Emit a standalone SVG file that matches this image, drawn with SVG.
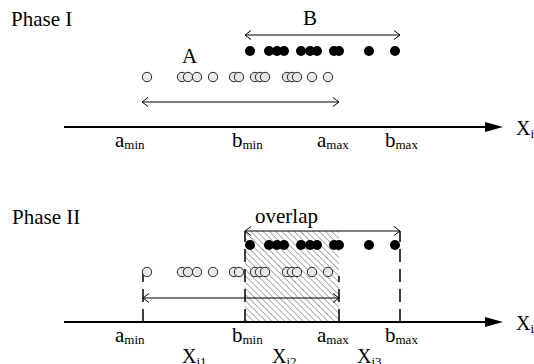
<svg xmlns="http://www.w3.org/2000/svg" width="534" height="364" viewBox="0 0 534 364">
<defs>
<style>
text { font-family: "Liberation Serif", "Times New Roman", serif; font-size: 21px; fill: #000; }
.sub { font-size: 13px; }
.xl { font-size: 20px; }
.axis { stroke: #000; stroke-width: 2; fill: none; }
.thin { stroke: #000; stroke-width: 1; fill: none; }
.dash { stroke: #000; stroke-width: 1.5; stroke-dasharray: 13 7; fill: none; }
.bd { fill: #000; }
.hd { fill: #e8e8e8; stroke: #222; stroke-width: 1; }
.head { fill: #000; }
</style>
<marker id="open" viewBox="-7 -6 8 12" refX="0" refY="0" markerWidth="8" markerHeight="12" markerUnits="userSpaceOnUse" orient="auto-start-reverse">
<path d="M-6,-4.5 L0,0 L-6,4.5" fill="none" stroke="#000" stroke-width="1"/>
</marker>
<pattern id="hatch" width="4.4" height="6" patternUnits="userSpaceOnUse" patternTransform="rotate(-45)">
<line x1="0" y1="0" x2="0" y2="6" stroke="#444" stroke-width="0.9"/>
</pattern>
</defs>

<g id="phase1">
<text x="11" y="26">Phase I</text>
<g id="axis1">
<line class="axis" x1="64" y1="127" x2="488" y2="127"/>
<polygon class="head" points="485,122 503,127 485,132"/>
<text class="xl" x="516" y="135">X<tspan class="sub" dy="3">i</tspan></text>
</g>
<g id="labels1">
<text x="115" y="147">a<tspan class="sub" dy="2">min</tspan></text>
<text x="232" y="147">b<tspan class="sub" dy="2">min</tspan></text>
<text x="317" y="147">a<tspan class="sub" dy="2">max</tspan></text>
<text x="385" y="147">b<tspan class="sub" dy="2">max</tspan></text>
</g>
<g id="setB1">
<text x="303" y="25">B</text>
<circle class="bd" cx="250" cy="51" r="5"/>
<circle class="bd" cx="269" cy="51" r="5"/>
<circle class="bd" cx="277" cy="51" r="5"/>
<circle class="bd" cx="284" cy="51" r="5"/>
<circle class="bd" cx="301" cy="51" r="5"/>
<circle class="bd" cx="310" cy="51" r="5"/>
<circle class="bd" cx="317" cy="51" r="5"/>
<circle class="bd" cx="334" cy="51" r="5"/>
<circle class="bd" cx="339" cy="51" r="5"/>
<circle class="bd" cx="369" cy="51" r="5"/>
<circle class="bd" cx="395" cy="51" r="5"/>
</g>
<g id="setA1">
<text x="182" y="63">A</text>
<circle class="hd" cx="147" cy="77" r="4.7"/>
<circle class="hd" cx="182" cy="77" r="4.7"/>
<circle class="hd" cx="188" cy="77" r="4.7"/>
<circle class="hd" cx="197" cy="77" r="4.7"/>
<circle class="hd" cx="213" cy="77" r="4.7"/>
<circle class="hd" cx="234" cy="77" r="4.7"/>
<circle class="hd" cx="239" cy="77" r="4.7"/>
<circle class="hd" cx="255" cy="77" r="4.7"/>
<circle class="hd" cx="260" cy="77" r="4.7"/>
<circle class="hd" cx="265" cy="77" r="4.7"/>
<circle class="hd" cx="287" cy="77" r="4.7"/>
<circle class="hd" cx="292" cy="77" r="4.7"/>
<circle class="hd" cx="297" cy="77" r="4.7"/>
<circle class="hd" cx="312" cy="77" r="4.7"/>
<circle class="hd" cx="328" cy="77" r="4.7"/>
</g>
</g>

<g id="phase2">
<text x="12" y="224">Phase II</text>
<g id="overlap">
<rect x="245" y="231" width="94" height="91" fill="url(#hatch)"/>
<text x="255" y="223">overlap</text>
</g>
<g id="axis2">
<line class="axis" x1="64" y1="322" x2="488" y2="322"/>
<polygon class="head" points="485,317 503,322 485,327"/>
<text class="xl" x="516" y="330">X<tspan class="sub" dy="3">i</tspan></text>
</g>
<g id="labels2">
<text x="115" y="342">a<tspan class="sub" dy="2">min</tspan></text>
<text x="232" y="342">b<tspan class="sub" dy="2">min</tspan></text>
<text x="317" y="342">a<tspan class="sub" dy="2">max</tspan></text>
<text x="385" y="342">b<tspan class="sub" dy="2">max</tspan></text>
<text class="xl" x="182" y="363">X<tspan class="sub" dy="3">i1</tspan></text>
<text class="xl" x="272" y="363">X<tspan class="sub" dy="3">i2</tspan></text>
<text class="xl" x="357" y="363">X<tspan class="sub" dy="3">i3</tspan></text>
</g>
<g id="bounds">
<line class="dash" x1="143" y1="322" x2="143" y2="272"/>
<line class="dash" x1="245" y1="322" x2="245" y2="231"/>
<line class="dash" x1="339" y1="322" x2="339" y2="276"/>
<line class="dash" x1="400" y1="322" x2="400" y2="231"/>
</g>
<g id="setB2">
<circle class="bd" cx="250" cy="245" r="5"/>
<circle class="bd" cx="269" cy="245" r="5"/>
<circle class="bd" cx="277" cy="245" r="5"/>
<circle class="bd" cx="284" cy="245" r="5"/>
<circle class="bd" cx="301" cy="245" r="5"/>
<circle class="bd" cx="310" cy="245" r="5"/>
<circle class="bd" cx="317" cy="245" r="5"/>
<circle class="bd" cx="334" cy="245" r="5"/>
<circle class="bd" cx="339" cy="245" r="5"/>
<circle class="bd" cx="369" cy="245" r="5"/>
<circle class="bd" cx="395" cy="245" r="5"/>
</g>
<g id="setA2">
<circle class="hd" cx="147" cy="272" r="4.7"/>
<circle class="hd" cx="182" cy="272" r="4.7"/>
<circle class="hd" cx="188" cy="272" r="4.7"/>
<circle class="hd" cx="197" cy="272" r="4.7"/>
<circle class="hd" cx="213" cy="272" r="4.7"/>
<circle class="hd" cx="234" cy="272" r="4.7"/>
<circle class="hd" cx="239" cy="272" r="4.7"/>
<circle class="hd" cx="255" cy="272" r="4.7"/>
<circle class="hd" cx="260" cy="272" r="4.7"/>
<circle class="hd" cx="265" cy="272" r="4.7"/>
<circle class="hd" cx="287" cy="272" r="4.7"/>
<circle class="hd" cx="292" cy="272" r="4.7"/>
<circle class="hd" cx="297" cy="272" r="4.7"/>
<circle class="hd" cx="312" cy="272" r="4.7"/>
<circle class="hd" cx="328" cy="272" r="4.7"/>
</g>
</g>

<g id="connectors">
<line class="thin" x1="245" y1="35" x2="400" y2="35" marker-start="url(#open)" marker-end="url(#open)"/>
<line class="thin" x1="142" y1="102" x2="339" y2="102" marker-start="url(#open)" marker-end="url(#open)"/>
<line class="thin" x1="245" y1="231" x2="400" y2="231" marker-start="url(#open)" marker-end="url(#open)"/>
<line class="thin" x1="143" y1="298" x2="339" y2="298" marker-start="url(#open)" marker-end="url(#open)"/>
</g>
</svg>
